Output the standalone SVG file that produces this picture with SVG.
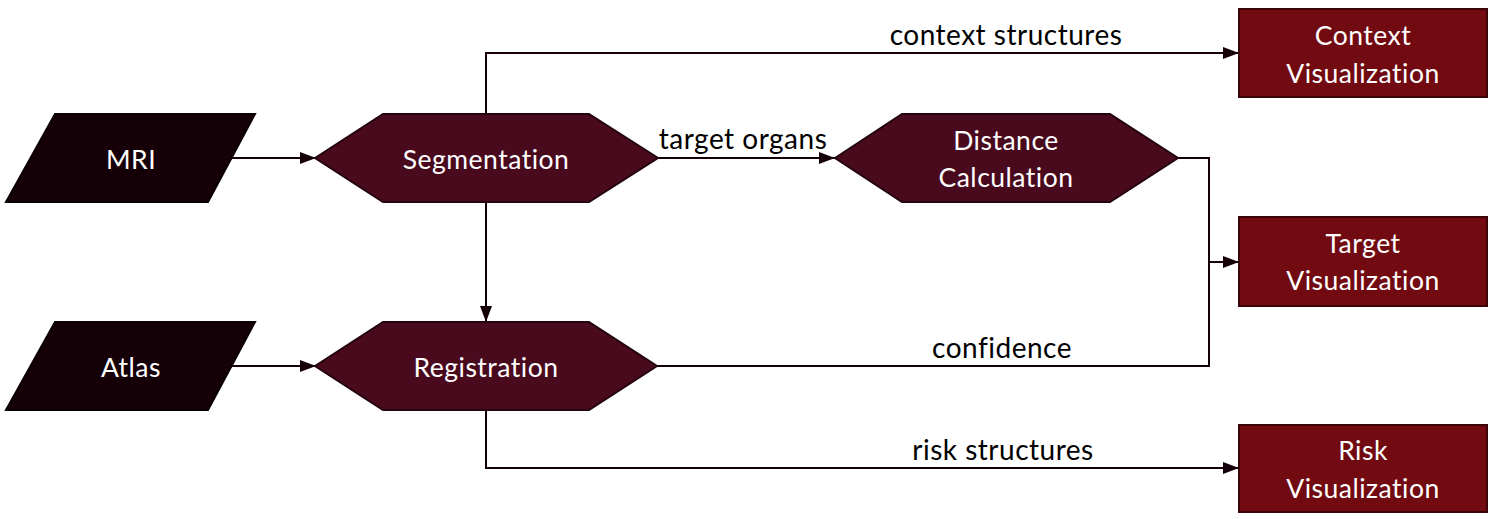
<svg xmlns="http://www.w3.org/2000/svg" width="1499" height="519" viewBox="0 0 1499 519">
<defs>
<marker id="ah" markerWidth="16" markerHeight="12" refX="16" refY="6" orient="auto" markerUnits="userSpaceOnUse">
<path d="M0,0 L16,6 L0,12 Z" fill="#15000a"/>
</marker>
<style>
.io{fill:#150008;stroke:#0a0004;stroke-width:2}
.proc{fill:#4a0a1e;stroke:#23040c;stroke-width:2}
.out{fill:#720a12;stroke:#3a0408;stroke-width:2}
.lbl{font-family:Lato,"Open Sans",sans-serif;font-size:26.5px;letter-spacing:0.5px;fill:#ffffff;text-anchor:middle;font-variant-ligatures:none}
.elbl{font-family:Lato,"Open Sans",sans-serif;font-size:28px;letter-spacing:0.5px;fill:#000000;text-anchor:middle;font-variant-ligatures:none}
.con{fill:none;stroke:#15000a;stroke-width:2}
</style>
</defs>
<rect width="1499" height="519" fill="#ffffff"/>
<g id="connectors">
<path class="con" d="M231,158 L316,158" marker-end="url(#ah)"/>
<path class="con" d="M231,366 L316,366" marker-end="url(#ah)"/>
<path class="con" d="M486,114 L486,53 L1239,53" marker-end="url(#ah)"/>
<path class="con" d="M658,158 L835,158" marker-end="url(#ah)"/>
<path class="con" d="M486,202 L486,322" marker-end="url(#ah)"/>
<path class="con" d="M1178,158 L1209,158 L1209,262 L1239,262" marker-end="url(#ah)"/>
<path class="con" d="M657,366 L1209,366 L1209,262"/>
<path class="con" d="M486,410 L486,468 L1239,468" marker-end="url(#ah)"/>
<text class="elbl" x="1006" y="45">context structures</text>
<text class="elbl" x="743" y="149">target organs</text>
<text class="elbl" x="1002" y="358">confidence</text>
<text class="elbl" x="1003" y="460">risk structures</text>
</g>
<g id="mri">
<polygon class="io" points="55,114 255,114 208,202 6,202"/>
<text class="lbl" x="131" y="169">MRI</text>
</g>
<g id="atlas">
<polygon class="io" points="55,322 255,322 208,410 6,410"/>
<text class="lbl" x="131" y="377">Atlas</text>
</g>
<g id="segmentation">
<polygon class="proc" points="315,158 383,114 589,114 658,158 589,202 383,202"/>
<text class="lbl" x="486" y="169">Segmentation</text>
</g>
<g id="registration">
<polygon class="proc" points="315,366 383,322 589,322 657,366 589,410 383,410"/>
<text class="lbl" x="486" y="377">Registration</text>
</g>
<g id="distance">
<polygon class="proc" points="835,158 902,114 1110,114 1178,158 1110,202 902,202"/>
<text class="lbl" x="1006" y="150">Distance</text>
<text class="lbl" x="1006" y="187">Calculation</text>
</g>
<g id="context">
<rect class="out" x="1239" y="9" width="248" height="88"/>
<text class="lbl" x="1363" y="45">Context</text>
<text class="lbl" x="1363" y="83">Visualization</text>
</g>
<g id="target">
<rect class="out" x="1239" y="217" width="248" height="89"/>
<text class="lbl" x="1363" y="253">Target</text>
<text class="lbl" x="1363" y="290">Visualization</text>
</g>
<g id="risk">
<rect class="out" x="1239" y="425" width="248" height="87"/>
<text class="lbl" x="1363" y="460">Risk</text>
<text class="lbl" x="1363" y="498">Visualization</text>
</g>
</svg>
